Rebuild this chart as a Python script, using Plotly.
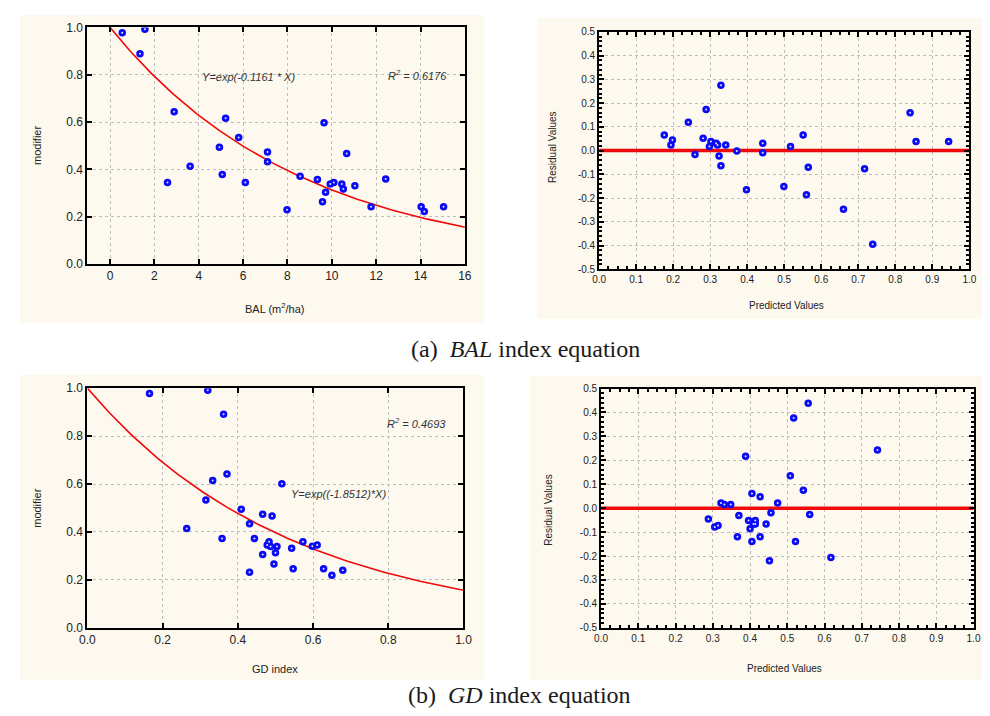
import numpy as np
import plotly.graph_objects as go

# ---------------- data ----------------
bal_x = [0.55, 1.57, 1.35, 2.89, 2.59, 3.61, 5.21, 4.93, 5.06, 5.80, 6.10, 7.10, 7.10, 7.98, 8.57,
         9.35, 9.65, 9.58, 9.72, 9.93, 10.09, 10.45, 10.52, 10.67, 11.04, 11.77, 12.43, 14.03, 14.17, 15.04]
bal_y = [0.978, 0.992, 0.889, 0.644, 0.345, 0.413, 0.616, 0.494, 0.378, 0.535, 0.345, 0.474, 0.432, 0.229, 0.371,
         0.357, 0.597, 0.263, 0.303, 0.338, 0.345, 0.338, 0.317, 0.467, 0.331, 0.242, 0.359, 0.242, 0.222, 0.242]

bal_pred = [0.176, 0.198, 0.194, 0.241, 0.259, 0.289, 0.281, 0.298, 0.302, 0.316, 0.320, 0.329, 0.324, 0.329, 0.342,
            0.372, 0.398, 0.442, 0.442, 0.499, 0.517, 0.551, 0.565, 0.560, 0.660, 0.717, 0.739, 0.840, 0.856, 0.944]
bal_res = [0.066, 0.045, 0.024, 0.119, -0.016, 0.173, 0.052, 0.017, 0.038, 0.031, 0.024, 0.275, -0.023, -0.064, 0.024,
           -0.002, -0.165, 0.031, -0.009, -0.151, 0.017, 0.066, -0.070, -0.186, -0.247, -0.077, -0.395, 0.159, 0.038, 0.038]

gd_x = [0.165, 0.320, 0.362, 0.371, 0.333, 0.517, 0.315, 0.264, 0.358, 0.409, 0.431, 0.466, 0.491, 0.444, 0.483,
        0.478, 0.487, 0.504, 0.543, 0.500, 0.466, 0.496, 0.431, 0.547, 0.573, 0.598, 0.611, 0.628, 0.650, 0.679]
gd_y = [0.978, 0.992, 0.891, 0.642, 0.615, 0.601, 0.534, 0.414, 0.373, 0.495, 0.434, 0.474, 0.467, 0.373, 0.359,
        0.346, 0.339, 0.339, 0.332, 0.313, 0.306, 0.266, 0.232, 0.246, 0.359, 0.340, 0.346, 0.246, 0.219, 0.240]

gd_pred = [0.556, 0.517, 0.388, 0.742, 0.508, 0.543, 0.405, 0.427, 0.474, 0.322, 0.331, 0.348, 0.456, 0.560, 0.288,
           0.370, 0.305, 0.314, 0.396, 0.414, 0.409, 0.414, 0.400, 0.443, 0.366, 0.427, 0.405, 0.522, 0.452, 0.617]
gd_res = [0.439, 0.377, 0.217, 0.243, 0.135, 0.075, 0.061, 0.048, 0.022, 0.022, 0.015, 0.015, -0.019, -0.026, -0.045,
          -0.031, -0.079, -0.072, -0.052, -0.052, -0.066, -0.066, -0.086, -0.066, -0.119, -0.119, -0.139, -0.139, -0.220, -0.206]

bal_coef = -0.1161
gd_coef = -1.8512
bal_ticks = [0, 2, 4, 6, 8, 10, 12, 14, 16]
mod_ticks = [0.0, 0.2, 0.4, 0.6, 0.8, 1.0]
gd_ticks = [0.0, 0.2, 0.4, 0.6, 0.8, 1.0]
pred_ticks = [round(0.1 * i, 1) for i in range(11)]
res_ticks = [round(-0.5 + 0.1 * i, 1) for i in range(11)]

# ---------------- figure ----------------
W, H = 990, 716
CREAM = "#FDF9EE"
BLUE = "#0A0AF5"
RED = "#EE0A0A"
SANS = "Liberation Sans, Arial, sans-serif"
SERIF = "Liberation Serif, Times New Roman, serif"


def dom_x(a, b):
    return [a / W, b / W]


def dom_y(top, bottom):
    return [1 - bottom / H, 1 - top / H]


fig = go.Figure()

bal_line_x = np.linspace(0, 16, 200)
gd_line_x = np.linspace(0, 1, 200)


def add_points(x, y, xa, ya):
    fig.add_trace(go.Scatter(x=x, y=y, mode="markers", xaxis=xa, yaxis=ya,
                             marker=dict(size=7.5, color=BLUE, line=dict(width=0)),
                             showlegend=False, hoverinfo="x+y"))
    fig.add_trace(go.Scatter(x=x, y=y, mode="markers", xaxis=xa, yaxis=ya,
                             marker=dict(size=2, color="#dfe3ff", line=dict(width=0)),
                             showlegend=False, hoverinfo="skip"))


# panel a-left
fig.add_trace(go.Scatter(x=bal_line_x, y=np.exp(bal_coef * bal_line_x), mode="lines",
                         line=dict(color=RED, width=1.6), xaxis="x", yaxis="y", showlegend=False))
add_points(bal_x, bal_y, "x", "y")

# panel a-right
fig.add_trace(go.Scatter(x=[0, 1], y=[0, 0], mode="lines", line=dict(color=RED, width=3.5),
                         xaxis="x2", yaxis="y2", showlegend=False))
add_points(bal_pred, bal_res, "x2", "y2")

# panel b-left
fig.add_trace(go.Scatter(x=gd_line_x, y=np.exp(gd_coef * gd_line_x), mode="lines",
                         line=dict(color=RED, width=1.6), xaxis="x3", yaxis="y3", showlegend=False))
add_points(gd_x, gd_y, "x3", "y3")

# panel b-right
fig.add_trace(go.Scatter(x=[0, 1], y=[0, 0], mode="lines", line=dict(color=RED, width=3.5),
                         xaxis="x4", yaxis="y4", showlegend=False))
add_points(gd_pred, gd_res, "x4", "y4")

common = dict(showline=True, linecolor="black", linewidth=2, mirror="ticks",
              ticks="inside", tickcolor="black", tickwidth=2, ticklen=5,
              showgrid=True, gridcolor="#bdbdbd", gridwidth=1, griddash="dot",
              zeroline=False)

left_font = dict(family=SANS, size=12, color="#222222")
right_font = dict(family=SANS, size=10, color="#222222")
minor_x = dict(ticks="inside", ticklen=3, tickwidth=1.5, tickcolor="black", dtick=0.025, showgrid=False)
minor_y = dict(ticks="inside", ticklen=3, tickwidth=1.5, tickcolor="black", dtick=0.02, showgrid=False)

fig.update_layout(
    width=W, height=H, margin=dict(l=0, r=0, t=0, b=0),
    paper_bgcolor="white", plot_bgcolor="white", showlegend=False,
    font=dict(family=SANS, size=11, color="#222222"),
    xaxis=dict(common, domain=dom_x(72.7, 456.7), range=[-1.02, 16], tickvals=bal_ticks,
               ticktext=[str(v) for v in bal_ticks], tickfont=left_font, anchor="y"),
    yaxis=dict(common, domain=dom_y(12.7, 254), range=[0, 1], tickvals=mod_ticks,
               ticktext=[f"{v:.1f}" for v in mod_ticks], tickfont=left_font, anchor="x"),
    xaxis2=dict(common, domain=dom_x(593.3, 970), range=[0, 1], tickvals=pred_ticks,
                ticktext=[f"{v:.1f}" for v in pred_ticks], tickfont=right_font, anchor="y2", minor=minor_x),
    yaxis2=dict(common, domain=dom_y(17.3, 259.3), range=[-0.5, 0.5], tickvals=res_ticks,
                ticktext=[f"{v:.1f}" for v in res_ticks], tickfont=right_font, anchor="x2", minor=minor_y),
    xaxis3=dict(common, domain=dom_x(72.7, 455.3), range=[0, 1], tickvals=gd_ticks,
                ticktext=[f"{v:.1f}" for v in gd_ticks], tickfont=left_font, anchor="y3"),
    yaxis3=dict(common, domain=dom_y(380.7, 625), range=[0, 1], tickvals=mod_ticks,
                ticktext=[f"{v:.1f}" for v in mod_ticks], tickfont=left_font, anchor="x3"),
    xaxis4=dict(common, domain=dom_x(595.3, 974.3), range=[0, 1], tickvals=pred_ticks,
                ticktext=[f"{v:.1f}" for v in pred_ticks], tickfont=right_font, anchor="y4", minor=minor_x),
    yaxis4=dict(common, domain=dom_y(381, 625), range=[-0.5, 0.5], tickvals=res_ticks,
                ticktext=[f"{v:.1f}" for v in res_ticks], tickfont=right_font, anchor="x4", minor=minor_y),
)

# cream panel backgrounds
for (x0, y0, x1, y1) in [(4, 0, 476, 314), (530, 3, 990, 310), (4, 367, 476, 678), (523, 368, 990, 678)]:
    fig.add_shape(type="rect", xref="paper", yref="paper", x0=x0 / W, x1=x1 / W,
                  y0=1 - y1 / H, y1=1 - y0 / H, fillcolor=CREAM, line=dict(width=0), layer="below")


def ann(text, x, y, size=11, italic=False, angle=0, family=SANS, color="#222222"):
    fig.add_annotation(text=f"<i>{text}</i>" if italic else text, xref="paper", yref="paper",
                       x=x / W, y=1 - y / H, xanchor="center", yanchor="middle", showarrow=False,
                       textangle=angle, font=dict(family=family, size=size, color=color))


# axis titles
ann("BAL (m<sup>2</sup>/ha)", 264, 299, 11)
ann("modifier", 22, 133, 11, angle=-90)
ann("Predicted Values", 784, 296, 10)
ann("Residual Values", 546, 135, 10, angle=-90)
ann("GD index", 264, 667, 11)
ann("modifier", 22, 503, 11, angle=-90)
ann("Predicted Values", 782, 667, 10)
ann("Residual Values", 541, 505, 10, angle=-90)

# in-plot equations
ann("Y=exp(-0.1161 * X)", 237, 63, 11, italic=True, color="#333333")
ann("R<sup>2</sup> = 0.6176", 409, 61, 11, italic=True, color="#333333")
ann("R<sup>2</sup> = 0.4693", 408, 416, 11, italic=True, color="#333333")
ann("Y=exp((-1.8512)*X)", 328, 489, 11, italic=True, color="#333333")

# captions
ann("(a)  <i>BAL</i> index equation", 518, 341, 24, family=SERIF, color="#1a1a1a")
ann("(b)  <i>GD</i> index equation", 512, 694, 24, family=SERIF, color="#1a1a1a")

fig.write_html("out.html")
